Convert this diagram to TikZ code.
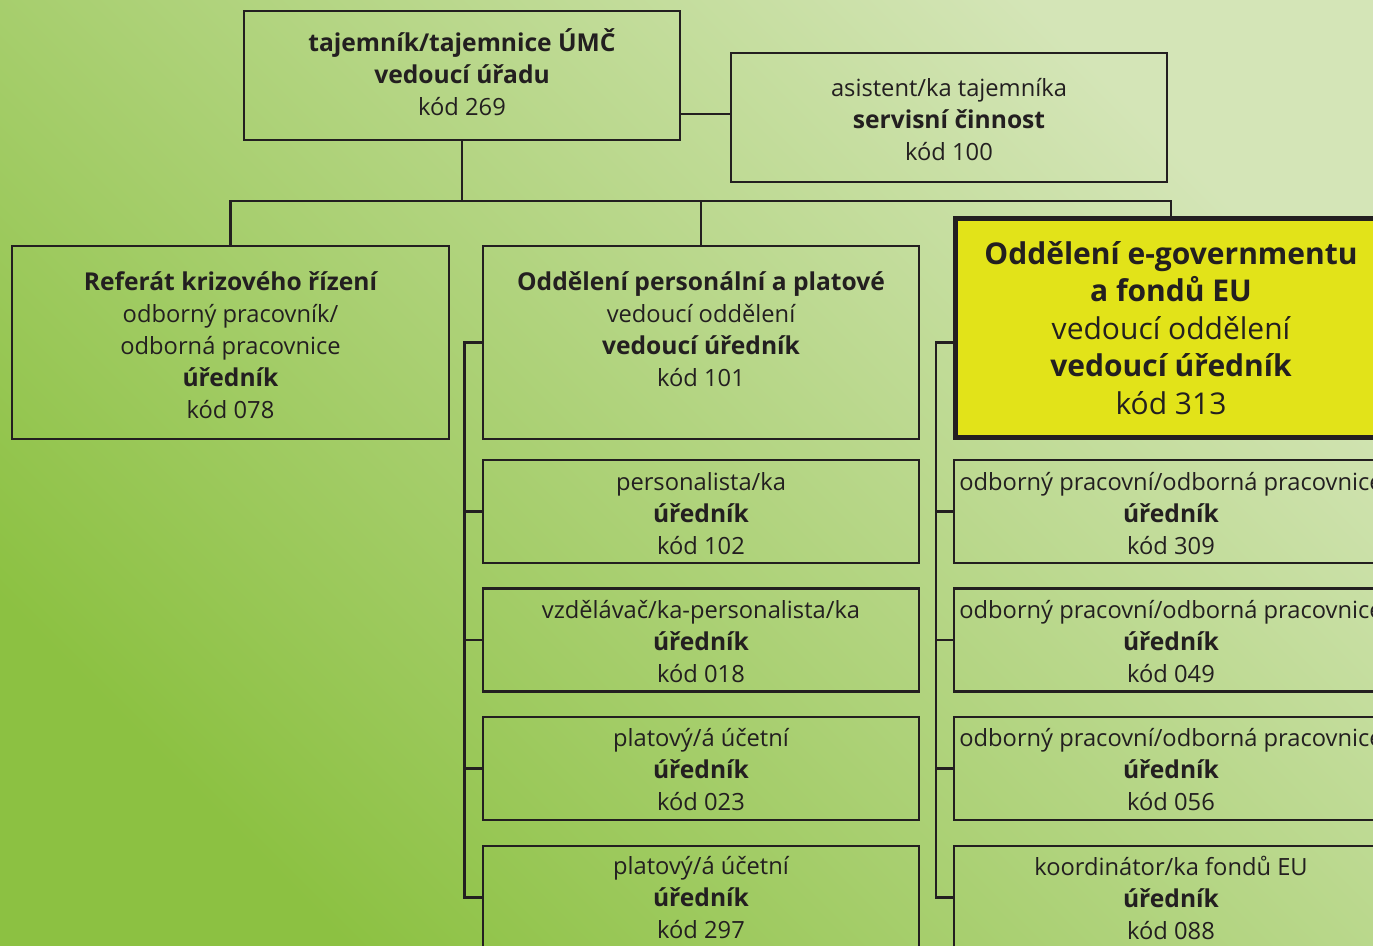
\documentclass[tikz,border=0pt]{standalone}
\usepackage{fontspec}
\setmainfont{Open Sans}
\definecolor{ink}{HTML}{231F20}
\definecolor{bgA}{HTML}{8CC142}
\definecolor{bgB}{HTML}{D4E5B7}
\definecolor{yelfill}{HTML}{E2E319}
\newcommand{\B}[1]{{\fontsize{24.6}{32}\selectfont\bfseries #1}}
\begin{document}
\begin{tikzpicture}[x=1pt,y=-1pt,
  box/.style={draw=ink, line width=2.8pt, inner sep=0pt},
  txt/.style={inner sep=0pt, align=center, text=ink, font=\fontsize{23.7}{32}\selectfont},
  bigtxt/.style={inner sep=0pt, align=center, text=ink, font=\fontsize{30}{37.5}\selectfont},
  subbox/.style={box, minimum width=436pt, minimum height=103pt},
  eubox/.style={box, minimum width=434pt, minimum height=103pt},
  conn/.style={draw=ink, line width=2.8pt}]
\useasboundingbox (0,0) rectangle (1373,945);
\shade[bottom color=bgA, top color=bgB, shading angle=-45] (0,0) rectangle (1373,945);

% boxes
\node[box, minimum width=436pt, minimum height=129pt] (top) at (462,75.5) {};
\node[box, minimum width=436pt, minimum height=129pt] (asst) at (949,117.5) {};
\node[box, minimum width=437pt, minimum height=193pt] (ref) at (230.5,342.5) {};
\node[box, minimum width=436pt, minimum height=193pt] (pers) at (701,342.5) {};
\node[subbox] (p1) at (701,511.5) {};
\node[subbox] (p2) at (701,640) {};
\node[subbox] (p3) at (701,768.5) {};
\node[subbox] (p4) at (701,897.5) {};
\node[box, fill=yelfill, line width=5pt, minimum width=431pt, minimum height=219.5pt] (yel) at (1171,327.75) {};
\node[eubox] (e1) at (1171,511.5) {};
\node[eubox] (e2) at (1171,640) {};
\node[eubox] (e3) at (1171,768.5) {};
\node[eubox] (e4) at (1171,897.5) {};

% texts
\node[txt] (top-t) at ([yshift=3pt]top.center) {\B{tajemník/tajemnice ÚMČ}\\\B{vedoucí úřadu}\\kód 269};
\node[txt] (asst-t) at ([yshift=-2pt]asst.center) {asistent/ka tajemníka\\\B{servisní činnost}\\kód 100};
\node[txt] (ref-t) at ([yshift=-2.5pt]ref.center) {\B{Referát krizového řízení}\\odborný pracovník/\\odborná pracovnice\\\B{úředník}\\kód 078};
\node[txt] (pers-t) at ([yshift=13.5pt]pers.center) {\B{Oddělení personální a platové}\\vedoucí oddělení\\\B{vedoucí úředník}\\kód 101};
\node[txt] (p1-t) at ([yshift=-2pt]p1.center) {personalista/ka\\\B{úředník}\\kód 102};
\node[txt] (p2-t) at ([yshift=-1.5pt]p2.center) {vzdělávač/ka-personalista/ka\\\B{úředník}\\kód 018};
\node[txt] (p3-t) at ([yshift=-1pt]p3.center) {platový/á účetní\\\B{úředník}\\kód 023};
\node[txt] (p4-t) at ([yshift=0pt]p4.center) {platový/á účetní\\\B{úředník}\\kód 297};
\node[bigtxt] (yel-t) at (yel.center) {\textbf{Oddělení e-governmentu}\\\textbf{a fondů EU}\\vedoucí oddělení\\\textbf{vedoucí úředník}\\kód 313};
\node[txt] (e1-t) at ([yshift=-2pt]e1.center) {odborný pracovní/odborná pracovnice\\\B{úředník}\\kód 309};
\node[txt] (e2-t) at ([yshift=-1.5pt]e2.center) {odborný pracovní/odborná pracovnice\\\B{úředník}\\kód 049};
\node[txt] (e3-t) at ([yshift=-1pt]e3.center) {odborný pracovní/odborná pracovnice\\\B{úředník}\\kód 056};
\node[txt] (e4-t) at ([yshift=0pt]e4.center) {koordinátor/ka fondů EU\\\B{úředník}\\kód 088};

% connectors
\draw[conn] (asst.west |- 0,114) -- (top.east |- 0,114);
\draw[conn] (top.south) -- (top.south |- 0,201) coordinate (j);
\draw[conn] (ref.north) -- (ref.north |- j) -- (yel.north |- j) -- (yel.north);
\draw[conn] (pers.north) -- (pers.north |- j);
\draw[conn] (pers.west) -- ++(-17,0) coordinate (lb) |- (p4.west);
\foreach \n in {p1,p2,p3} \draw[conn] (\n.west) -- (\n.west -| lb);
\draw[conn] (yel.west |- pers.west) -- ++(-17,0) coordinate (rb) |- (e4.west);
\foreach \n in {e1,e2,e3} \draw[conn] (\n.west) -- (\n.west -| rb);
\end{tikzpicture}
\end{document}
